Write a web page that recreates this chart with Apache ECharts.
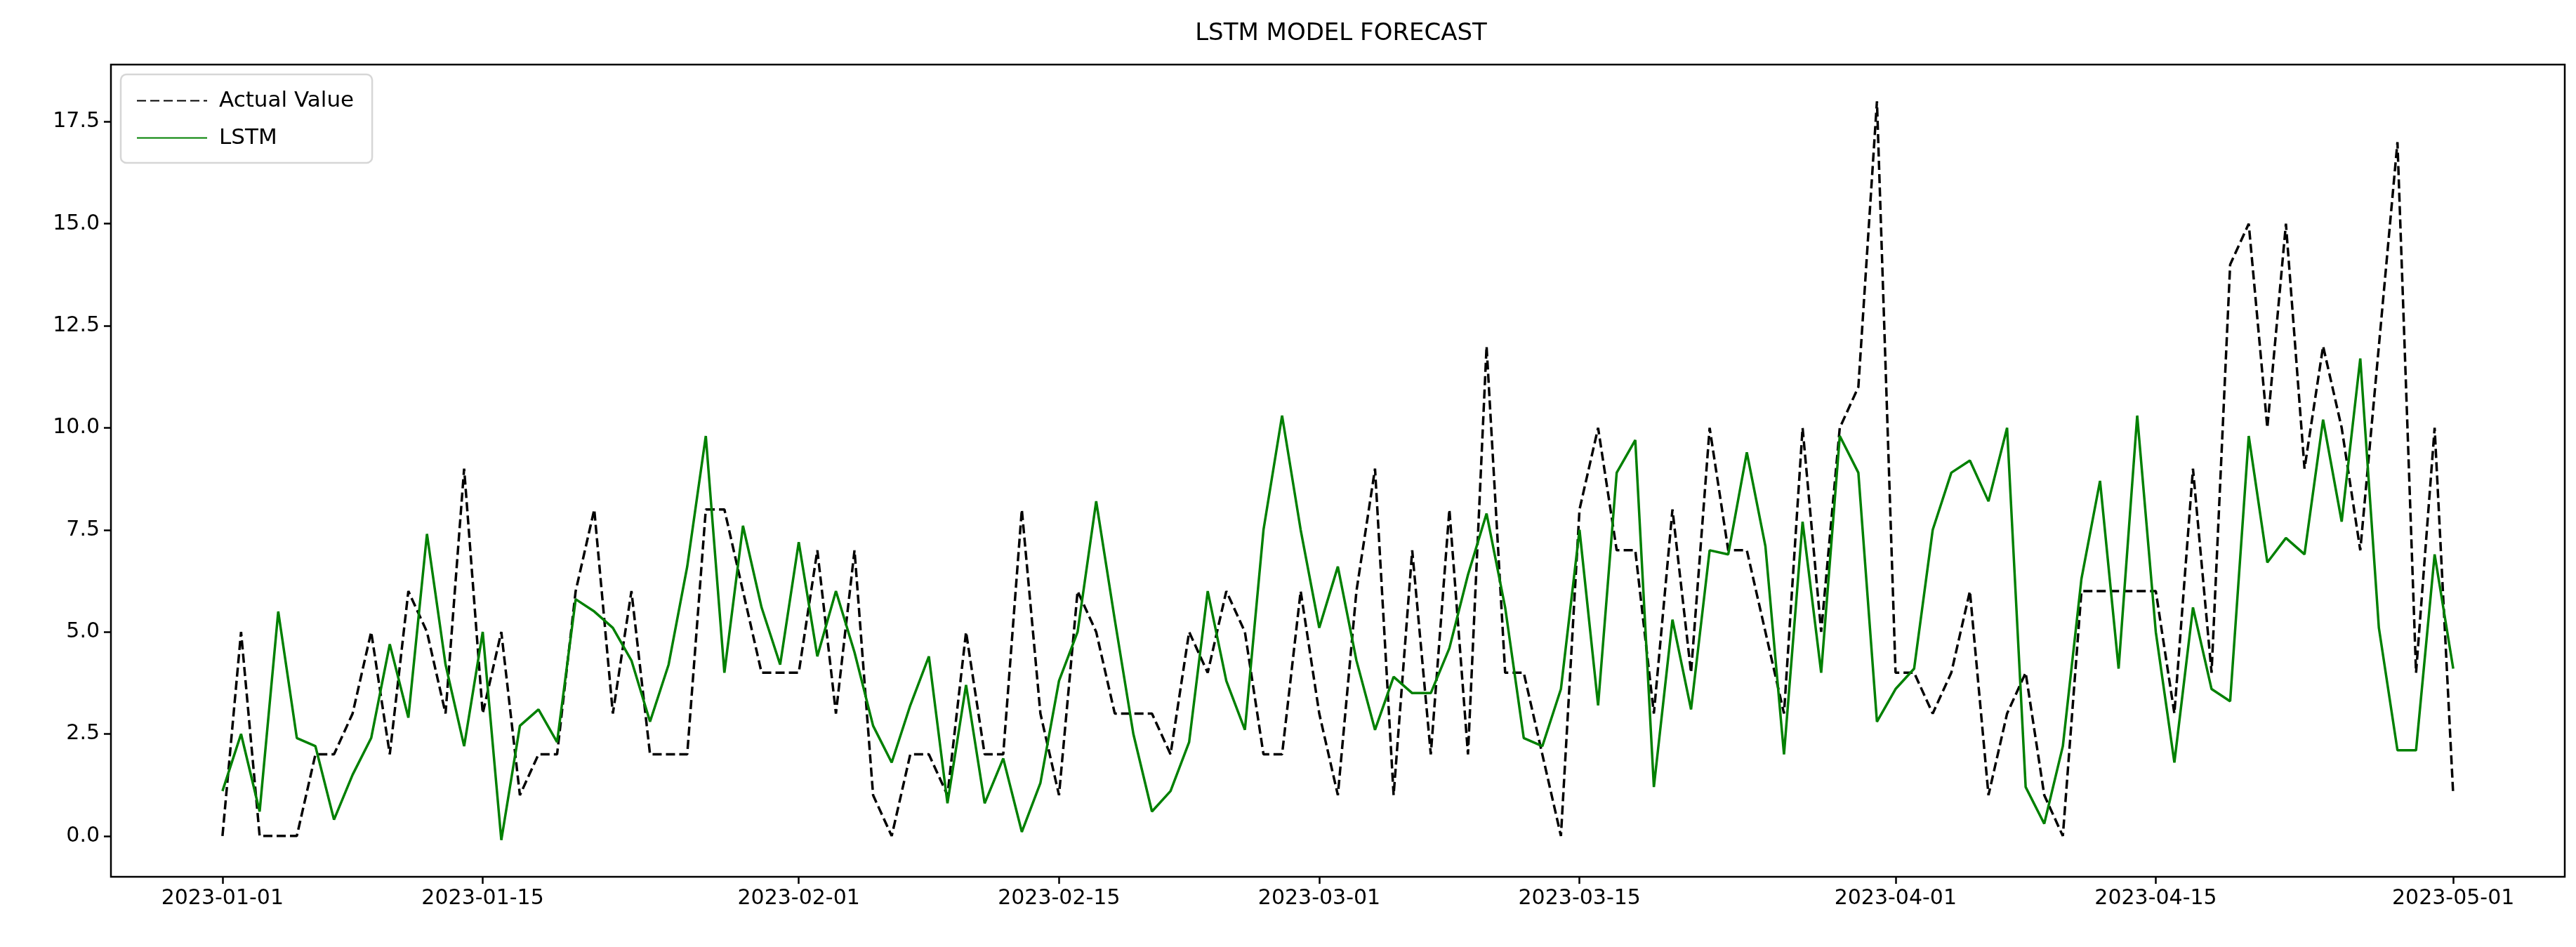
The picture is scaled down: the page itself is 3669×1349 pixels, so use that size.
<!DOCTYPE html>
<html><head><meta charset="utf-8">
<script src="https://cdn.jsdelivr.net/npm/echarts@6/dist/echarts.min.js"></script>
<style>html,body{margin:0;padding:0;background:#fff}#c{width:3669px;height:1349px}</style>
</head><body><div id="c"></div>
<script>
const startDate = '2023-01-01';
const actualJan = [0,5,0,0,0,2,2,3,5,2,6,5,3,9,3,5,1,2,2,6,8,3,6,2,2,2,8,8,6,4,4];
const actualFeb = [4,7,3,7,1,0,2,2,1,5,2,2,8,3,1,6,5,3,3,3,2,5,4,6,5,2,2,6];
const actualMar = [3,1,6,9,1,7,2,8,2,12,4,4,2,0,8,10,7,7,3,8,4,10,7,7,5,3,10,5,10,11,18];
const actualApr = [4,4,3,4,6,1,3,4,1,0,6,6,6,6,6,3,9,4,14,15,10,15,9,12,10,7,12,17,4,10];
const actualMay = [1];
const lstmJan = [1.1,2.5,0.6,5.5,2.4,2.2,0.4,1.5,2.4,4.7,2.9,7.4,4.2,2.2,5.0,-0.1,2.7,3.1,2.3,5.8,5.5,5.1,4.3,2.8,4.2,6.6,9.8,4.0,7.6,5.6,4.2];
const lstmFeb = [7.2,4.4,6.0,4.5,2.7,1.8,3.2,4.4,0.8,3.7,0.8,1.9,0.1,1.3,3.8,5.0,8.2,5.3,2.5,0.6,1.1,2.3,6.0,3.8,2.6,7.5,10.3,7.5];
const lstmMar = [5.1,6.6,4.3,2.6,3.9,3.5,3.5,4.6,6.4,7.9,5.6,2.4,2.2,3.6,7.5,3.2,8.9,9.7,1.2,5.3,3.1,7.0,6.9,9.4,7.1,2.0,7.7,4.0,9.8,8.9,2.8];
const lstmApr = [3.6,4.1,7.5,8.9,9.2,8.2,10.0,1.2,0.3,2.2,6.3,8.7,4.1,10.3,5.0,1.8,5.6,3.6,3.3,9.8,6.7,7.3,6.9,10.2,7.7,11.7,5.1,2.1,2.1,6.9];
const lstmMay = [4.1];
const xTickDays = [0,14,31,45,59,73,90,104,120];
const xTickLabels = ['2023-01-01','2023-01-15','2023-02-01','2023-02-15','2023-03-01','2023-03-15','2023-04-01','2023-04-15','2023-05-01'];
const yTicks = [0,2.5,5,7.5,10,12.5,15,17.5];

const actual = [].concat(actualJan,actualFeb,actualMar,actualApr,actualMay);
const lstm = [].concat(lstmJan,lstmFeb,lstmMar,lstmApr,lstmMay);
const chart = echarts.init(document.getElementById('c'));
const font = 'DejaVu Sans';
chart.setOption({
  animation:false,
  backgroundColor:'#fff',
  title:{text:'LSTM MODEL FORECAST',left:1905,top:26,textAlign:'center',
    textStyle:{fontFamily:font,fontSize:34,fontWeight:'normal',color:'#000'}},
  legend:{orient:'vertical',left:172,top:106,padding:[22,26,20,22],itemGap:22,
    itemWidth:100,itemHeight:16,borderColor:'#d6d6d6',borderWidth:2.5,borderRadius:8,
    itemStyle:{opacity:0},
    textStyle:{fontFamily:font,fontSize:31,color:'#000',padding:[0,0,0,12]},
    data:['Actual Value','LSTM']},
  grid:{left:158,right:16,top:92,bottom:100,show:true,borderColor:'#000',borderWidth:2.5,containLabel:false},
  xAxis:{type:'value',min:-6,max:126,
    axisLine:{show:false,onZero:false},splitLine:{show:false},
    axisTick:{show:true,customValues:xTickDays,length:10,lineStyle:{color:'#000',width:2.5}},
    axisLabel:{show:true,customValues:xTickDays,margin:16,fontFamily:font,fontSize:30,color:'#000',
      formatter:v=>xTickLabels[xTickDays.indexOf(v)]}},
  yAxis:{type:'value',min:-1,max:18.9,
    axisLine:{show:false,onZero:false},splitLine:{show:false},
    axisTick:{show:true,customValues:yTicks,length:10,lineStyle:{color:'#000',width:2.5}},
    axisLabel:{show:true,customValues:yTicks,margin:16,fontFamily:font,fontSize:30,color:'#000',
      formatter:v=>v.toFixed(1)}},
  series:[
    {name:'Actual Value',type:'line',symbol:'none',data:actual.map((v,i)=>[i,v]),
      lineStyle:{color:'#000',width:3.5,type:[13,6]},itemStyle:{color:'#000'}},
    {name:'LSTM',type:'line',symbol:'none',data:lstm.map((v,i)=>[i,v]),
      lineStyle:{color:'#008000',width:3.5},itemStyle:{color:'#008000'}}
  ]
});
</script></body></html>
